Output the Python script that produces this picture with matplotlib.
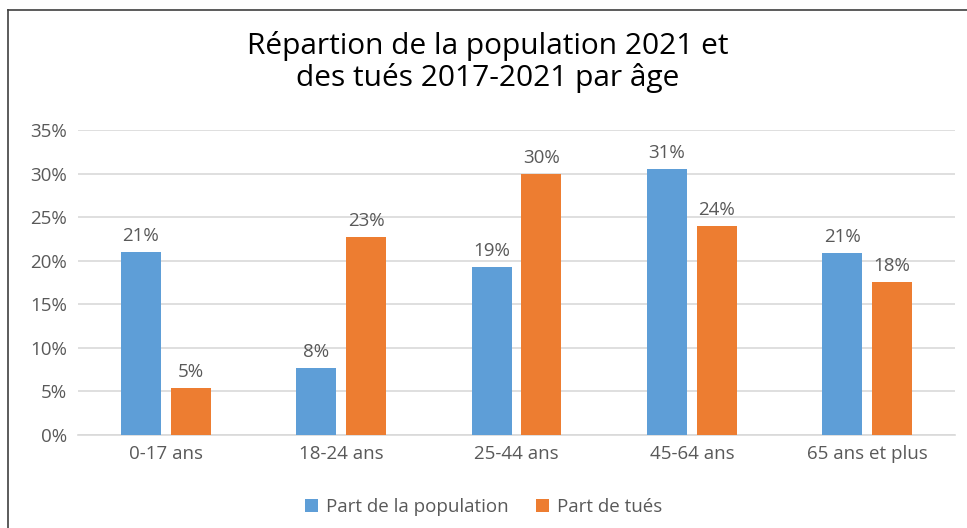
import matplotlib.pyplot as plt
import numpy as np
from matplotlib.ticker import PercentFormatter

plt.rcParams['font.family'] = ['Open Sans', 'DejaVu Sans']

# données
categories = ['0-17 ans', '18-24 ans', '25-44 ans', '45-64 ans', '65 ans et plus']
part_population = [21.0, 7.7, 19.3, 30.5, 20.9]
part_tues = [5.4, 22.7, 29.9, 24.0, 17.6]
labels_population = ['21%', '8%', '19%', '31%', '21%']
labels_tues = ['5%', '23%', '30%', '24%', '18%']

bleu = '#5E9ED7'
orange = '#ED7D31'
gris = '#595959'

fig = plt.figure(figsize=(9.67, 5.28), dpi=100)
ax = fig.add_axes([78 / 967, 1 - 435 / 528, (955 - 78) / 967, (435 - 130) / 528])

x = np.arange(len(categories))
w = 0.227
gap = 0.057
b1 = ax.bar(x - (w + gap) / 2, part_population, w, color=bleu, label='Part de la population', zorder=3)
b2 = ax.bar(x + (w + gap) / 2, part_tues, w, color=orange, label='Part de tués', zorder=3)

for rect, txt in zip(b1, labels_population):
    ax.annotate(txt, (rect.get_x() + rect.get_width() / 2, rect.get_height()),
                xytext=(0, 5), textcoords='offset points', ha='center', va='bottom',
                fontsize=13.5, color=gris)
for rect, txt in zip(b2, labels_tues):
    ax.annotate(txt, (rect.get_x() + rect.get_width() / 2, rect.get_height()),
                xytext=(0, 5), textcoords='offset points', ha='center', va='bottom',
                fontsize=13.5, color=gris)

ax.set_xlim(-0.5, len(categories) - 0.5)
ax.set_ylim(0, 35)
ax.set_yticks(np.arange(0, 36, 5))
ax.yaxis.set_major_formatter(PercentFormatter(decimals=0))
ax.grid(axis='y', color='#D9D9D9', linewidth=1.2, zorder=0)
ax.set_xticks(x)
ax.set_xticklabels(categories)
ax.tick_params(axis='both', length=0, labelsize=13.5, labelcolor=gris)
ax.tick_params(axis='y', pad=8)
ax.tick_params(axis='x', pad=7)
for s in ['top', 'right', 'left']:
    ax.spines[s].set_visible(False)
ax.spines['bottom'].set_color('#D9D9D9')
ax.spines['bottom'].set_linewidth(1.2)

fig.text(488 / 967, 1 - 62 / 528, 'Répartion de la population 2021 et\ndes tués 2017-2021 par âge',
         ha='center', va='center', fontsize=21.5, color='black', linespacing=1.1)

ax.legend(loc='center', bbox_to_anchor=(0.5, 1 - 507 / 528), bbox_transform=fig.transFigure,
          ncol=2, frameon=False, fontsize=13.5, labelcolor=gris, handlelength=0.7,
          handleheight=0.7, handletextpad=0.4, columnspacing=1.5)

# cadre
fig.add_artist(plt.Line2D([8 / 967, 8 / 967], [0, 1 - 10 / 528], color='#404040', lw=1.2))
fig.add_artist(plt.Line2D([8 / 967, 1], [1 - 10 / 528, 1 - 10 / 528], color='#404040', lw=1.2))

fig.savefig('out.png', dpi=100)
